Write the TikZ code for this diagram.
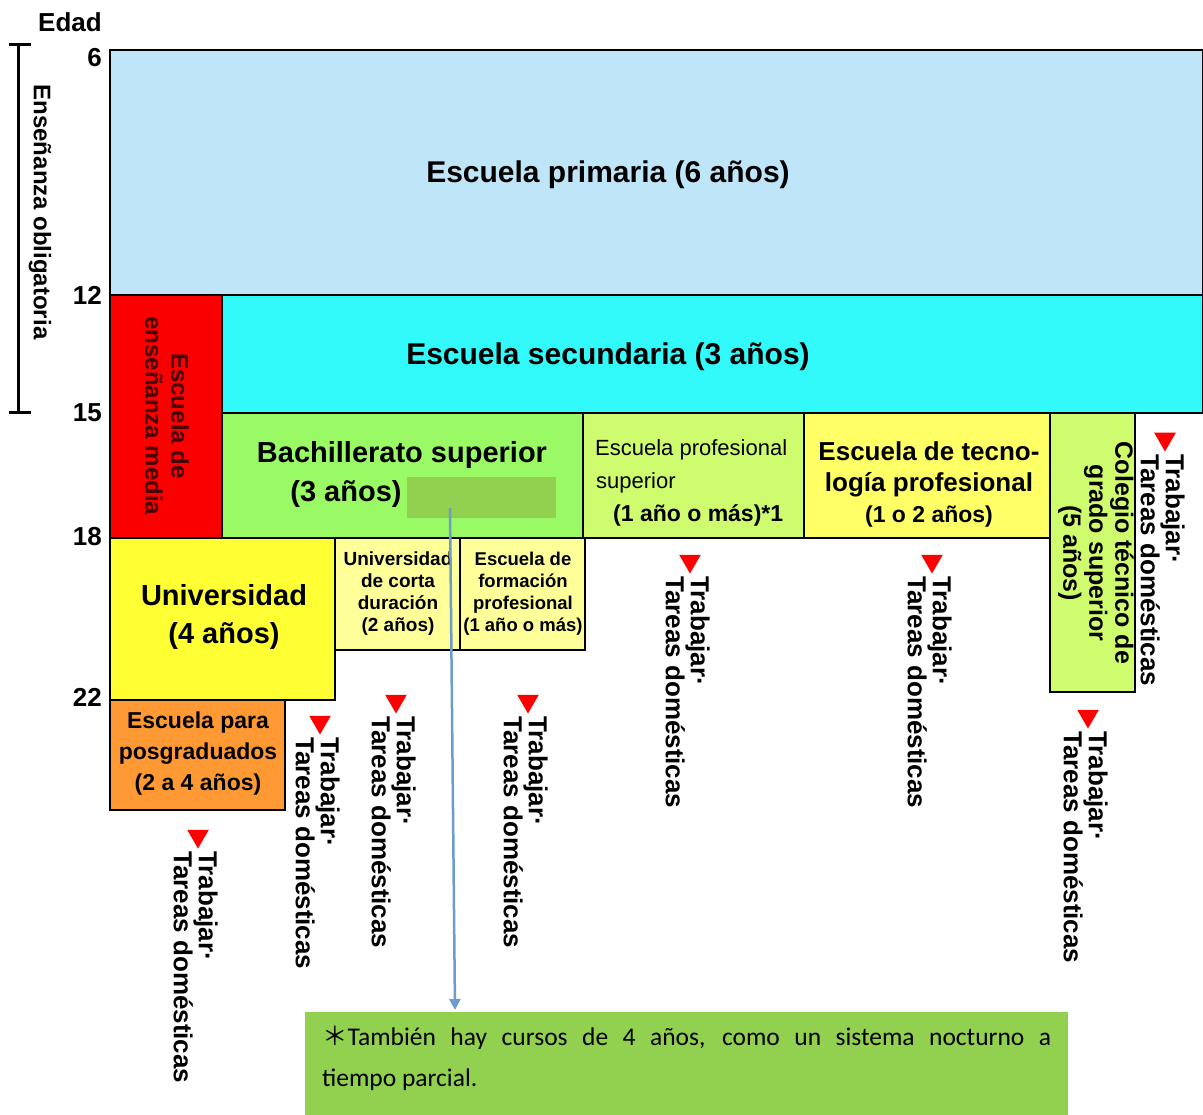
\documentclass[tikz,border=0pt]{standalone}
\usepackage{fontspec}
\setmainfont{Liberation Sans}
\newfontfamily\carl{Carlito}
\newfontfamily\cjk{Noto Sans CJK JP}
\usetikzlibrary{shapes.geometric,arrows.meta}
\definecolor{cPrim}{RGB}{190,230,248}
\definecolor{cSec}{RGB}{51,250,250}
\definecolor{cRed}{RGB}{250,0,0}
\definecolor{cBach}{RGB}{153,250,102}
\definecolor{cLime}{RGB}{206,252,110}
\definecolor{cYel}{RGB}{255,255,102}
\definecolor{cUni}{RGB}{255,255,51}
\definecolor{cPale}{RGB}{255,255,153}
\definecolor{cOra}{RGB}{255,153,51}
\definecolor{cFoot}{RGB}{146,208,80}
\definecolor{cArrow}{RGB}{110,155,205}
\definecolor{cDark}{RGB}{70,0,0}
\newcommand\fs[2]{\fontsize{#1}{#2}\selectfont}
\begin{document}
\begin{tikzpicture}[x=1pt,y=-1pt,
  box/.style={draw=black, line width=2.5pt, anchor=north west, inner sep=0pt, outer sep=0pt},
  lbl/.style={inner sep=0pt, align=center},
  big/.style={lbl, font=\fs{29}{39}\bfseries},
  age/.style={inner sep=0pt, anchor=east, font=\fs{26}{30}\bfseries},
  tri/.style={regular polygon, regular polygon sides=3, shape border rotate=180, fill=red, inner sep=0pt, minimum size=25pt},
  work/.style={rotate=-90, anchor=north west, inner sep=0pt, align=left, font=\fs{26}{25}\bfseries}]
\useasboundingbox (0,0) rectangle (1203,1115);

% axis
\node[inner sep=0pt, font=\fs{26}{30}\bfseries] (edad) at (70,22) {Edad};
\draw[line width=3pt] (9,45) -- (31,45) (18,45) -- (18,413) (9,413) -- (31,413);
\node[rotate=-90, inner sep=0pt, font=\fs{24}{28}\bfseries] (oblig) at (40,212) {Enseñanza obligatoria};
\node[age] (a6) at (102,58) {6};
\node[age] (a12) at (102,295) {12};
\node[age] (a15) at (102,413) {15};
\node[age] (a18) at (102,537) {18};
\node[age] (a22) at (102,697) {22};

% boxes
\node[box, fill=cPrim, minimum width=1093pt, minimum height=245pt] (prim) at (110,50) {};
\node[box, fill=cRed, minimum width=112pt, minimum height=243pt] (media) at (110,295) {};
\node[box, fill=cSec, minimum width=981pt, minimum height=118pt] (sec) at (222,295) {};
\node[box, fill=cBach, minimum width=361pt, minimum height=125pt] (bach) at (222,413) {};
\node[box, fill=cLime, minimum width=221pt, minimum height=125pt] (epsup) at (583,413) {};
\node[box, fill=cYel, minimum width=246pt, minimum height=125pt] (tec) at (804,413) {};
\node[box, fill=cLime, minimum width=85pt, minimum height=279pt] (col) at (1050,413) {};
\node[box, fill=cUni, minimum width=225pt, minimum height=162pt] (univ) at (110,538) {};
\node[box, fill=cPale, minimum width=125pt, minimum height=112pt] (corta) at (335,538) {};
\node[box, fill=cPale, minimum width=125pt, minimum height=112pt] (form) at (460,538) {};
\node[box, fill=cOra, minimum width=175pt, minimum height=110pt] (posg) at (110,700) {};

% texts
\node[lbl, font=\fs{30}{36}\bfseries] (tprim) at (608,175) {Escuela primaria (6 años)};
\node[lbl, font=\fs{30}{36}\bfseries] (tsec) at (608,357) {Escuela secundaria (3 años)};
\node[lbl, rotate=-90, font=\fs{24}{26}\bfseries, text=cDark] (tmedia) at (167,416) {Escuela de\\enseñanza media};
\node[big] (tbach1) at (402,455) {Bachillerato superior};
\node[big] (tbach2) at (346,494) {(3 años)};
\node[anchor=north west, fill=cFoot, inner sep=0pt, minimum width=149pt, minimum height=41pt] (ov) at (407,477) {};
\node[inner sep=0pt, anchor=west, font=\fs{22}{26}] (tep1) at (595,450) {Escuela profesional};
\node[inner sep=0pt, anchor=west, font=\fs{22}{26}] (tep2) at (596,483) {superior};
\node[inner sep=0pt, anchor=west, font=\fs{23}{26}\bfseries] (tep3) at (613,515) {(1 año o más)*1};
\node[lbl, font=\fs{26}{31}\bfseries] (ttec) at (929,484) {Escuela de tecno-\\logía profesional\\{\fs{23}{31}\bfseries(1 o 2 años)}};
\node[lbl, rotate=-90, font=\fs{25}{26}\bfseries] (tcol) at (1096,553) {Colegio técnico de\\grado superior\\(5 años)};
\node[big] (tuniv) at (224,617) {Universidad\\(4 años)};
\node[lbl, font=\fs{19}{22}\bfseries] (tcorta) at (398,594) {Universidad\\de corta\\duración\\(2 años)};
\node[lbl, font=\fs{18.5}{22}\bfseries] (tform) at (523,594) {Escuela de\\formación\\profesional\\(1 año o más)};
\node[lbl, font=\fs{23}{31}\bfseries] (tposg) at (198,754) {Escuela para\\posgraduados\\(2 a 4 años)};

% work markers
\newcommand\workmark[3]{%
  \node[tri] (t#1) at (#2,#3) {};
  \node[work] (w#1) at ({#2+20},{#3+15}) {Trabajar·\\Tareas domésticas};}
\workmark{1}{198}{836}
\workmark{2}{320}{722}
\workmark{3}{396}{701}
\workmark{4}{528}{701}
\workmark{5}{690}{561}
\workmark{6}{932}{561}
\workmark{7}{1088}{716}
\workmark{8}{1165}{439}

% footnote
\node[anchor=north west, fill=cFoot, inner sep=0pt, minimum width=763pt, minimum height=103pt] (foot) at (305,1012) {};
\node[anchor=north west, inner sep=0pt, text width=729pt, align=justify, font=\carl\fs{25.5}{41}] (tfoot) at (322,1026)
  {{\cjk ＊}También hay cursos de 4 años, como un sistema nocturno a\linebreak tiempo parcial.};

% arrow
\coordinate (as) at (450,508);
\coordinate (ae) at (455,1010);
\draw[cArrow, line width=2.5pt, -{Triangle[width=11pt,length=11pt]}] (as) -- (ae);
\end{tikzpicture}
\end{document}
